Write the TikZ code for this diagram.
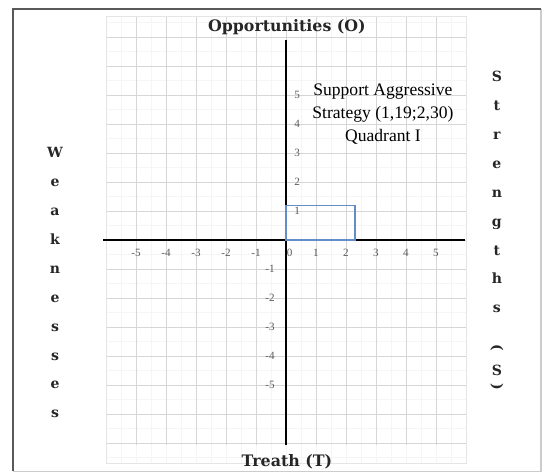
\documentclass[tikz,border=0pt]{standalone}
\usepackage{fontspec}
\setmainfont{Liberation Serif}
\newfontfamily\headfont{DejaVu Serif}
\definecolor{boxblue}{RGB}{100,140,200}
\begin{document}
\begin{tikzpicture}[x=0.9cm, y=0.87cm,
  axis/.style={line width=2.4pt, black},
  head/.style={font=\headfont\bfseries\fontsize{13.5}{15}\selectfont, text=black!85, inner sep=0pt},
  side/.style={font=\headfont\bfseries\fontsize{12}{24.7}\selectfont, align=center, text=black!85, inner sep=0pt},
  tick/.style={font=\fontsize{9.5}{10}\selectfont, text=black!65, inner sep=1pt},
  quad/.style={font=\fontsize{15}{19.6}\selectfont, align=center, inner sep=0pt}]
\useasboundingbox (-9.533,-8.034) rectangle (8.6,8.276);
% frame
\draw[black!20, line width=1pt] (-9.1,-7.97) -- (8.5,-7.97) -- (8.5,7.97);
\draw[black!65, line width=2pt] (-9.1,-7.97) -- (-9.1,7.97) -- (8.5,7.97);
% grid
\draw[black!4, step=0.5] (-6,-7.7) grid (6,7.7);
\draw[black!16, step=1] (-6,-7.07) grid (6,7.7);
\draw[black!10] (-6,-7.7) rectangle (6,7.7);
% axes
\coordinate (xl) at (-6.1,0);
\coordinate (xr) at (5.97,0);
\coordinate (yt) at (0,6.9);
\coordinate (yb) at (0,-7.07);
\draw[axis] (xl) -- (xr);
\draw[axis] (yt) -- (yb);
% tick labels
\foreach \i in {-5,...,-1} {
  \node[tick] (xt\i) at (\i,-0.45) {\i};
  \node[tick] (yt\i) at (-0.53,\i) {\i};
}
\foreach \i in {1,...,5} {
  \node[tick] (xt\i) at (\i,-0.45) {\i};
  \node[tick] (yt\i) at (0.37,\i) {\i};
}
\node[tick] (xt0) at (0.12,-0.45) {0};
% quadrant
\coordinate (o) at (0,0);
\coordinate (q) at (2.3,1.19);
\draw[boxblue, line width=0.9pt] (o) rectangle (q);
\node[quad] (quad) at (3.23,4.34) {Support Aggressive\\Strategy (1,19;2,30)\\Quadrant I};
% titles
\node[head] (opp) at (0.03,7.34) {Opportunities (O)};
\node[head] (treat) at (0.03,-7.66) {Treath (T)};
\node[side] (weak) at (-7.7,-1.47) {W\\e\\a\\k\\n\\e\\s\\s\\e\\s};
\node[side] (str) at (7.03,1.655) {S\\t\\r\\e\\n\\g\\t\\h\\s};
\node[side, rotate=-90] (strl) at (7.03,-3.72) {(};
\node[side] (strs) at (7.03,-4.48) {S};
\node[side, rotate=-90] (strr) at (7.03,-5.07) {)};
\end{tikzpicture}
\end{document}
